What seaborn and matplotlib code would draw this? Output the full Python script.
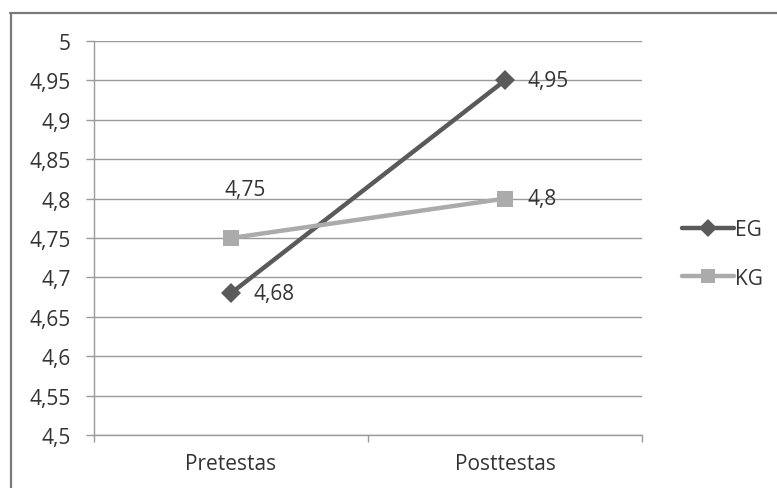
import matplotlib
matplotlib.use("Agg")
import matplotlib.pyplot as plt
from matplotlib.lines import Line2D
import seaborn as sns
import pandas as pd

# Mean scores for the experimental (EG) and control (KG) groups
tests = ["Pretestas", "Posttestas"]
eg_values = [4.68, 4.95]
kg_values = [4.75, 4.80]
groups = ["EG", "KG"]
y_ticks = [4.5, 4.55, 4.6, 4.65, 4.7, 4.75, 4.8, 4.85, 4.9, 4.95, 5.0]

df = pd.DataFrame({
    "test": tests * 2,
    "value": eg_values + kg_values,
    "group": [groups[0]] * 2 + [groups[1]] * 2,
})

sns.set_theme(style="white")
plt.rcParams["font.family"] = ["Open Sans", "DejaVu Sans"]

FS = 15
TEXT = "#333333"
GRID = "#9a9a9a"
colors = {"EG": "#5a5a5a", "KG": "#ababab"}

fig = plt.figure(figsize=(7.77, 4.89), dpi=100)
ax = fig.add_axes([94 / 777, 1 - 436 / 489, (642 - 94) / 777, (436 - 42) / 489])

sns.lineplot(data=df, x="test", y="value", hue="group", style="group",
             palette=colors, markers={"EG": "D", "KG": "s"}, dashes=False,
             linewidth=3.2, markersize=10.5, markeredgewidth=0, sort=False,
             ax=ax, legend=False, zorder=3)
for ln in ax.lines:
    if ln.get_marker() == "s":
        ln.set_markersize(11.5)

ax.set_xlim(-0.5, 1.5)
ax.set_ylim(4.5, 5.0)
ax.set_yticks(y_ticks)
ax.set_yticklabels([f"{v:g}".replace(".", ",") for v in y_ticks])
ax.set_xticks([-0.5, 0.5, 1.5], minor=True)
ax.set_xticks([0, 1])
ax.set_xticklabels(tests)
ax.set_xlabel("")
ax.set_ylabel("")

ax.yaxis.grid(True, color=GRID, linewidth=1.0)
ax.set_axisbelow(True)
for side in ("top", "right"):
    ax.spines[side].set_visible(False)
for side in ("left", "bottom"):
    ax.spines[side].set_color(GRID)
    ax.spines[side].set_linewidth(1.0)

ax.tick_params(axis="y", which="major", length=6, width=1, color=GRID,
               labelsize=FS, labelcolor=TEXT, pad=11, left=True)
ax.tick_params(axis="x", which="major", length=0, labelsize=FS,
               labelcolor=TEXT, pad=13)
ax.tick_params(axis="x", which="minor", length=5, width=1, color=GRID,
               bottom=True)

fmt = lambda v: f"{v:g}".replace(".", ",")
# value labels
ax.annotate(fmt(eg_values[0]), (0, eg_values[0]), xytext=(16, 0),
            textcoords="offset points", ha="left", va="center",
            fontsize=FS, color=TEXT)
ax.annotate(fmt(kg_values[0]), (0, kg_values[0]), xytext=(10, 35),
            textcoords="offset points", ha="center", va="center",
            fontsize=FS, color=TEXT)
ax.annotate(fmt(eg_values[1]), (1, eg_values[1]), xytext=(16, 0),
            textcoords="offset points", ha="left", va="center",
            fontsize=FS, color=TEXT)
ax.annotate(fmt(kg_values[1]), (1, kg_values[1]), xytext=(16, 0),
            textcoords="offset points", ha="left", va="center",
            fontsize=FS, color=TEXT)

handles = [
    Line2D([], [], color=colors["EG"], marker="D", linewidth=3.2,
           markersize=9, markeredgewidth=0),
    Line2D([], [], color=colors["KG"], marker="s", linewidth=3.2,
           markersize=10, markeredgewidth=0),
]
fig.legend(handles, groups, loc="center left",
           bbox_to_anchor=(674 / 777, 1 - 255 / 489), frameon=False,
           fontsize=FS, labelcolor=TEXT, handlelength=2.5,
           handletextpad=0.05, labelspacing=1.3, borderaxespad=0)

# outer frame (top and left edges)
fig.add_artist(Line2D([10 / 777, 1.0], [1 - 13.5 / 489, 1 - 13.5 / 489],
                      transform=fig.transFigure, color="#7a7a7a", linewidth=1.6))
fig.add_artist(Line2D([10.5 / 777, 10.5 / 777], [0, 1 - 13.5 / 489],
                      transform=fig.transFigure, color="#7a7a7a", linewidth=1.6))

fig.savefig("out.png", dpi=100, facecolor="white")
